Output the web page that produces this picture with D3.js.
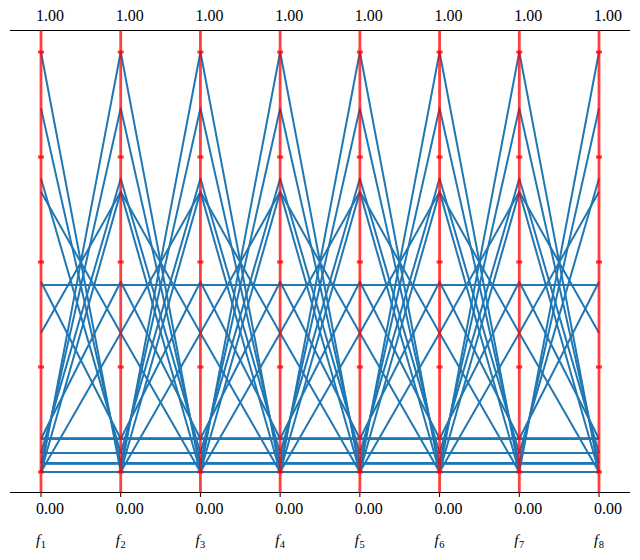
<!DOCTYPE html>
<html><head><meta charset="utf-8">
<script src="https://cdn.jsdelivr.net/npm/d3@7/dist/d3.min.js"></script>
<style>body{margin:0;background:#fff}svg{display:block}</style>
</head><body>
<script>
const objectives = ["1","2","3","4","5","6","7","8"];
const upperBounds = ["1.00","1.00","1.00","1.00","1.00","1.00","1.00","1.00"];
const lowerBounds = ["0.00","0.00","0.00","0.00","0.00","0.00","0.00","0.00"];
const tickValues = [0, 0.25, 0.5, 0.75, 1];

const layerOuter = [
 [1,0,0,0,0,0,0,0],[0,1,0,0,0,0,0,0],[0,0,1,0,0,0,0,0],[0,0,0,1,0,0,0,0],
 [0,0,0,0,1,0,0,0],[0,0,0,0,0,1,0,0],[0,0,0,0,0,0,1,0],[0,0,0,0,0,0,0,1]
];
const layerSecond = [
 [0.866,0.021,0.021,0.021,0.021,0.021,0.021,0.021],
 [0.021,0.866,0.021,0.021,0.021,0.021,0.021,0.021],
 [0.021,0.021,0.866,0.021,0.021,0.021,0.021,0.021],
 [0.021,0.021,0.021,0.866,0.021,0.021,0.021,0.021],
 [0.021,0.021,0.021,0.021,0.866,0.021,0.021,0.021],
 [0.021,0.021,0.021,0.021,0.021,0.866,0.021,0.021],
 [0.021,0.021,0.021,0.021,0.021,0.021,0.866,0.021],
 [0.021,0.021,0.021,0.021,0.021,0.021,0.021,0.866]
];
const layerThird = [
 [0.699,0.045,0.045,0.045,0.045,0.045,0.045,0.045],
 [0.045,0.699,0.045,0.045,0.045,0.045,0.045,0.045],
 [0.045,0.045,0.699,0.045,0.045,0.045,0.045,0.045],
 [0.045,0.045,0.045,0.699,0.045,0.045,0.045,0.045],
 [0.045,0.045,0.045,0.045,0.699,0.045,0.045,0.045],
 [0.045,0.045,0.045,0.045,0.045,0.699,0.045,0.045],
 [0.045,0.045,0.045,0.045,0.045,0.045,0.699,0.045],
 [0.045,0.045,0.045,0.045,0.045,0.045,0.045,0.699]
];
const layerFourth = [
 [0.453,0.079,0.079,0.079,0.079,0.079,0.079,0.079],
 [0.079,0.453,0.079,0.079,0.079,0.079,0.079,0.079],
 [0.079,0.079,0.453,0.079,0.079,0.079,0.079,0.079],
 [0.079,0.079,0.079,0.453,0.079,0.079,0.079,0.079],
 [0.079,0.079,0.079,0.079,0.453,0.079,0.079,0.079],
 [0.079,0.079,0.079,0.079,0.079,0.453,0.079,0.079],
 [0.079,0.079,0.079,0.079,0.079,0.079,0.453,0.079],
 [0.079,0.079,0.079,0.079,0.079,0.079,0.079,0.453]
];
const pairRows = [
 [0.667,0.331,0,0,0,0,0,0],[0,0.667,0.331,0,0,0,0,0],[0,0,0.667,0.331,0,0,0,0],
 [0,0,0,0.667,0.331,0,0,0],[0,0,0,0,0.667,0.331,0,0],[0,0,0,0,0,0.667,0.331,0],
 [0,0,0,0,0,0,0.667,0.331],
 [0.331,0.667,0,0,0,0,0,0],[0,0.331,0.667,0,0,0,0,0],[0,0,0.331,0.667,0,0,0,0],
 [0,0,0,0.331,0.667,0,0,0],[0,0,0,0,0.331,0.667,0,0],[0,0,0,0,0,0.331,0.667,0],
 [0,0,0,0,0,0,0.331,0.667]
];
const centerRows = [
 [0.445,0.445,0.445,0.445,0.445,0.445,0.445,0.445]
];

const W = 640, H = 560;
const svg = d3.select("body").append("svg").attr("width", W).attr("height", H);

const x = d3.scalePoint().domain(objectives).range([41, 599]);
const y = d3.scaleLinear().domain([0, 1]).range([472, 52]);
const font = "'Liberation Serif', serif";

const allRows = [].concat(layerOuter, layerSecond, layerThird, layerFourth, pairRows, centerRows);
const line = d3.line().x((d, i) => x(objectives[i])).y(d => y(d));

svg.append("g").selectAll("path").data(allRows).join("path")
  .attr("d", line).attr("fill", "none").attr("stroke", "#1f77b4")
  .attr("stroke-width", 2).attr("stroke-linejoin", "round");

// frame (top and bottom spines)
const yTop = Math.floor(y(1.05)) + 0.5, yBot = Math.floor(y(-0.05)) - 0.5;
svg.append("line").attr("x1", 10).attr("x2", 630).attr("y1", yTop).attr("y2", yTop)
  .attr("stroke", "#000").attr("stroke-width", 1);
svg.append("line").attr("x1", 10).attr("x2", 630).attr("y1", yBot).attr("y2", yBot)
  .attr("stroke", "#000").attr("stroke-width", 1);

// bottom ticks
svg.append("g").selectAll("line").data(objectives).join("line")
  .attr("x1", d => x(d)).attr("x2", d => x(d)).attr("y1", yBot).attr("y2", yBot + 4.5)
  .attr("stroke", "#000").attr("stroke-width", 1);

// red axes
const ax = svg.append("g");
ax.selectAll("line.axis").data(objectives).join("line").attr("class", "axis")
  .attr("x1", d => x(d)).attr("x2", d => x(d)).attr("y1", yTop).attr("y2", yBot)
  .attr("stroke", "red").attr("stroke-opacity", 0.75).attr("stroke-width", 2.8);
objectives.forEach(o => {
  ax.selectAll(null).data(tickValues).join("rect")
    .attr("x", x(o) - 3).attr("y", d => y(d) - 1.5).attr("width", 6).attr("height", 3)
    .attr("fill", "red").attr("fill-opacity", 0.75);
});

// bound labels
svg.append("g").selectAll("text").data(upperBounds).join("text")
  .attr("x", (d, i) => x(objectives[i]) + 9).attr("y", 21).attr("text-anchor", "middle")
  .attr("font-family", font).attr("font-size", 16).attr("fill", "#000").text(d => d);
svg.append("g").selectAll("text").data(lowerBounds).join("text")
  .attr("x", (d, i) => x(objectives[i]) + 9).attr("y", 514).attr("text-anchor", "middle")
  .attr("font-family", font).attr("font-size", 16).attr("fill", "#000").text(d => d);

// objective labels
const lab = svg.append("g").selectAll("text").data(objectives).join("text")
  .attr("x", d => x(d) - 5).attr("y", 545)
  .attr("font-family", font).attr("font-size", 15).attr("fill", "#000");
lab.append("tspan").attr("font-style", "italic").text("f");
lab.append("tspan").attr("font-size", 10.5).attr("dy", 3).attr("dx", 0.5).text(d => d);
</script>
</body></html>
